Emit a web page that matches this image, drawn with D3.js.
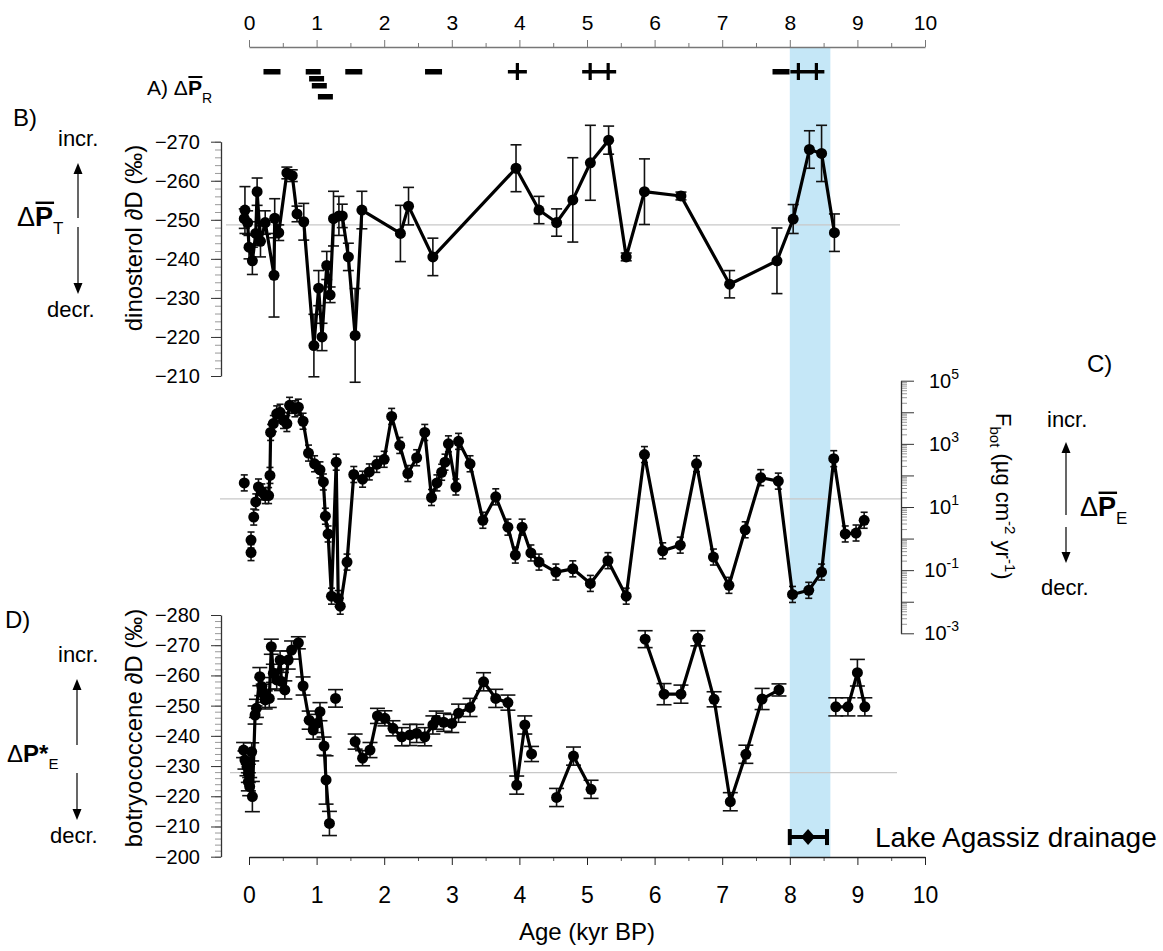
<!DOCTYPE html>
<html><head><meta charset="utf-8">
<script src="https://cdn.jsdelivr.net/npm/d3@7"></script>
<style>
body{margin:0;background:#fff}
svg{display:block;font-family:"Liberation Sans",Arial,sans-serif}
</style></head><body>
<svg id="chart" width="1163" height="951"></svg>
<script>
// ---------------- DATA ----------------
const ageTicks = [0,1,2,3,4,5,6,7,8,9,10];
const ageMinor = [0.5,1.5,2.5,3.5,4.5,5.5,6.5,7.5,8.5,9.5];
const drainageBand = [8.0, 8.6];

// A) sign symbols (age, kind, stacked row)
const signAges  = [0.34, 0.95, 1.0, 1.04, 1.13, 1.55, 2.73, 3.97, 5.18, 7.87, 8.26];
const signKinds = ['-','-','-','-','-','-','-','+','++','-','++'];
const signRows  = [0, 0, 1, 2, 3, 0, 0, 0, 0, 0, 0];

// B) dinosterol dD (permil)
const dinoTicks = [-270,-260,-250,-240,-230,-220,-210];
const dinoAge = [-0.07,-0.06,-0.02,0.0,0.05,0.10,0.12,0.17,0.24,0.37,0.38,0.44,0.56,0.64,0.71,0.81,0.96,1.03,1.08,1.15,1.20,1.25,1.33,1.38,1.47,1.57,1.67,2.24,2.36,2.72,3.95,4.29,4.55,4.79,5.05,5.32,5.58,5.85,6.39,7.11,7.81,8.05,8.29,8.47,8.66];
const dinoVal = [-250.3,-252.5,-249.3,-243,-239.5,-246.5,-257.2,-244.5,-249.3,-235.8,-250.4,-246.7,-262,-261.3,-251.5,-249.5,-217.8,-232.5,-220,-238.3,-230.8,-250.3,-251,-251,-240.5,-220.4,-252.5,-246.5,-253.5,-240.5,-263.2,-252.5,-249.3,-255.1,-264.6,-270.4,-240.5,-257.2,-256.1,-233.5,-239.5,-250.2,-268,-267,-246.7];
const dinoErr = [2.5,6,3,3,3.5,3,3.5,4,3,10.7,5,2,1.5,1.5,2,4.7,8,4.5,3.5,3.6,2,7,5,3,3.5,12,4.8,7.2,4.8,4.8,6,3.5,3.5,10.8,9.6,3.6,1,8.4,1,3.5,8.4,3.7,4.8,7.2,4.8];
const dinoRef = -248.7;

// C) F_bot (ug cm-2 yr-1), log scale
const fbotTicks = [1e5,1e3,1e1,1e-1,1e-3];
const fbotTickExp = ['5','3','1','-1','-3'];
const fbotIsoAge = [-0.07, 0.03, 0.03, 0.07];
const fbotIsoVal = [58, 0.9, 0.36, 4.8];
const fbotAge = [0.10,0.14,0.19,0.24,0.29,0.31,0.32,0.36,0.41,0.46,0.51,0.56,0.60,0.68,0.73,0.80,0.88,0.97,1.05,1.10,1.13,1.17,1.22,1.29,1.32,1.35,1.45,1.55,1.68,1.78,1.89,2.00,2.11,2.23,2.35,2.48,2.60,2.70,2.78,2.85,2.90,2.95,3.06,3.10,3.27,3.46,3.65,3.83,3.94,4.04,4.17,4.29,4.54,4.79,5.05,5.31,5.58,5.85,6.12,6.38,6.62,6.87,7.10,7.34,7.57,7.83,8.04,8.28,8.47,8.65,8.82,8.98,9.10];
const fbotVal = [14.5,43,30,23,23,100,2300,4400,8900,10000,5500,4400,16600,12900,14500,5200,510,234,150,62,5.1,1.4,0.015,263,0.0126,0.0072,0.18,107,76,129,224,324,7400,890,115,363,2300,20,58,126,263,1000,43,1200,234,3.8,21,2.3,0.3,2.3,0.35,0.18,0.087,0.11,0.038,0.2,0.015,457,0.41,0.62,234,0.26,0.033,1.9,85,66,0.017,0.023,0.087,339,1.4,1.5,3.8];
const fbotRef = 18;

// D) botryococcene dD (permil)
const botTicks = [-280,-270,-260,-250,-240,-230,-220,-210,-200];
const botAge = [-0.08,-0.06,-0.03,-0.01,-0.01,0.01,0.04,0.05,0.09,0.11,0.16,0.19,0.21,0.24,0.30,0.33,0.36,0.41,0.46,0.48,0.53,0.58,0.63,0.73,0.80,0.89,0.95,1.00,1.05,1.11,1.14,1.19,
  1.28,
  1.57,1.68,1.79,1.90,2.01,2.13,2.26,2.38,2.48,2.60,2.72,2.77,2.88,3.00,3.10,3.27,3.47,3.65,3.83,3.96,4.08,4.18,
  4.55,4.80,5.06,
  5.86,6.14,6.39,6.64,6.88,7.12,7.35,7.59,7.84,
  8.68,8.86,9.00,9.11];
const botVal = [-235.3,-232,-229.8,-227.6,-224.8,-223.2,-234.7,-219.9,-246.9,-249.1,-259.6,-256.3,-254.1,-251.9,-252.4,-269.5,-260.7,-258.5,-265.1,-258,-255.2,-265.1,-268.4,-270.8,-256.5,-245.2,-241.9,-244.1,-248,-236.6,-225.4,-211,
  -252.4,
  -238.1,-232.6,-235.3,-246.6,-245.8,-242.5,-239.7,-240.3,-240.8,-239.7,-243.6,-245.2,-244.5,-244.1,-247.5,-249.4,-257.9,-252.4,-251,-223.7,-243.6,-234,
  -219.6,-233.3,-222.3,
  -272,-253.8,-253.8,-272.3,-252.1,-218.2,-233.9,-252.2,-255.2,
  -249.6,-249.6,-260.9,-249.6];
const botErr = [2.5,3,3,3,3,3,3,5,3,3,3,3,3,3,3,2.5,3,3,3,3,3,3,3,2,3,3,3,3,3,3,8,4,
  2.9,
  2.5,2.5,2.5,2.5,2.5,2.5,3,3.5,3,3,3,3,3,3,3,3,3,3,2.5,3,3,2.5,
  3,3,3,
  2.8,3.5,3,2.5,2.5,3,3,3.5,2,
  3,3,4.4,3];
const botSeg = [1,1,1,1,1,1,1,1,1,1,1,1,1,1,1,1,1,1,1,1,1,1,1,1,1,1,1,1,1,1,1,1,
  2,
  3,3,3,3,3,3,3,3,3,3,3,3,3,3,3,3,3,3,3,3,3,3,
  4,4,4,
  5,5,5,5,5,5,5,5,5,
  6,6,6,6];
const botRef = -227.8;

// Lake Agassiz drainage marker
const agassizAge = 8.27;
const agassizRange = [8.0, 8.55];
const agassizLevel = -206.5;

// ---------------- CHART ----------------
const svg = d3.select('#chart');
const x  = d3.scaleLinear().domain([0,10]).range([249,925]);
const yB = d3.scaleLinear().domain([-270,-210]).range([141.7,376]);
const yC = d3.scaleLog().domain([1e5,1e-3]).range([380.7,633.3]);
const yD = d3.scaleLinear().domain([-280,-200]).range([615,856.7]);

// blue band
svg.append('rect')
  .attr('x', x(drainageBand[0])).attr('width', x(drainageBand[1]) - x(drainageBand[0]))
  .attr('y', 47).attr('height', 857 - 47)
  .attr('fill', '#c5e7f7');

// reference lines
const refs = svg.append('g').attr('stroke','#c8c8c8').attr('stroke-width',1.2);
refs.append('line').attr('x1',226).attr('x2',900).attr('y1',yB(dinoRef)).attr('y2',yB(dinoRef));
refs.append('line').attr('x1',220).attr('x2',901).attr('y1',yC(fbotRef)).attr('y2',yC(fbotRef));
refs.append('line').attr('x1',230).attr('x2',897).attr('y1',yD(botRef)).attr('y2',yD(botRef));

function styleAxis(g, color, fs){
  g.selectAll('path.domain').attr('stroke', color).attr('stroke-width', 1.3);
  g.selectAll('.tick line').attr('stroke', color);
  g.selectAll('text').attr('fill','#000').attr('font-size', fs).attr('font-family','"Liberation Sans",Arial,sans-serif');
}

// top axis
const gTopMinor = svg.append('g').attr('transform','translate(0,47)')
  .call(d3.axisTop(x).tickValues(ageMinor).tickSize(4).tickSizeOuter(0).tickFormat(''));
gTopMinor.select('path.domain').remove();
gTopMinor.selectAll('line').attr('stroke','#777');
const gTop = svg.append('g').attr('transform','translate(0,47)')
  .call(d3.axisTop(x).tickValues(ageTicks).tickSize(7).tickSizeOuter(0).tickFormat(d3.format('d')));
styleAxis(gTop, '#777', 21);
gTop.selectAll('text').attr('y', -17).attr('dy', 0);

// bottom axis
const gBotMinor = svg.append('g').attr('transform','translate(0,857)')
  .call(d3.axisBottom(x).tickValues(ageMinor).tickSize(4).tickSizeOuter(0).tickFormat(''));
gBotMinor.select('path.domain').remove();
gBotMinor.selectAll('line').attr('stroke','#555');
const gBot = svg.append('g').attr('transform','translate(0,857)')
  .call(d3.axisBottom(x).tickValues(ageTicks).tickSize(8).tickSizeOuter(0).tickFormat(d3.format('d')));
styleAxis(gBot, '#222', 23);
gBot.selectAll('text').attr('y', 46).attr('dy', 0);
svg.append('text').attr('x', x(5)).attr('y', 940).attr('text-anchor','middle')
  .attr('font-size', 24).text('Age (kyr BP)');

// left axes B and D
function leftAxis(scale, ticks, minorStep){
  const dom = scale.domain();
  const minor = d3.range(Math.min(...dom), Math.max(...dom) + 0.001, minorStep);
  const gm = svg.append('g').attr('transform','translate(221,0)')
    .call(d3.axisLeft(scale).tickValues(minor).tickSize(6).tickSizeOuter(0).tickFormat(''));
  gm.select('path.domain').remove();
  gm.selectAll('line').attr('stroke','#999');
  const g = svg.append('g').attr('transform','translate(221,0)')
    .call(d3.axisLeft(scale).tickValues(ticks).tickSize(10).tickSizeOuter(0).tickFormat(d3.format('d')));
  styleAxis(g, '#333', 20);
  g.selectAll('text').attr('x', -21);
}
leftAxis(yB, dinoTicks, 2);
leftAxis(yD, botTicks, 2);

// right axis C (log)
(function(){
  const minor = [];
  for (let e = -3; e < 5; e++) for (let m = 2; m <= 9; m++) minor.push(m * Math.pow(10, e));
  const gm = svg.append('g').attr('transform','translate(901,0)')
    .call(d3.axisRight(yC).tickValues(minor).tickSize(6).tickSizeOuter(0).tickFormat(''));
  gm.select('path.domain').remove();
  gm.selectAll('line').attr('stroke','#999');
  const decades = d3.range(-3, 6).map(e => Math.pow(10, e));
  const gd = svg.append('g').attr('transform','translate(901,0)')
    .call(d3.axisRight(yC).tickValues(decades).tickSize(13).tickSizeOuter(0).tickFormat(''));
  styleAxis(gd, '#333', 20);
  const lab = svg.append('g').attr('transform','translate(901,0)');
  fbotTicks.forEach((v, i) => {
    const t = lab.append('text').attr('x', 58).attr('y', yC(v) + 7)
      .attr('text-anchor','end').attr('font-size', 20);
    t.append('tspan').text('10');
    t.append('tspan').attr('font-size', 14).attr('dy', -9).text(fbotTickExp[i]);
  });
})();

// error bars + lines + markers
function drawSeries(data, ys, capW, lineSegments){
  const g = svg.append('g');
  g.selectAll('line.err').data(data).join('line')
    .attr('x1', d => x(d.a)).attr('x2', d => x(d.a))
    .attr('y1', d => d.lo).attr('y2', d => d.hi)
    .attr('stroke','#111').attr('stroke-width',1.6);
  ['lo','hi'].forEach(k => {
    g.selectAll('line.cap' + k).data(data).join('line')
      .attr('x1', d => x(d.a) - capW/2).attr('x2', d => x(d.a) + capW/2)
      .attr('y1', d => d[k]).attr('y2', d => d[k])
      .attr('stroke','#111').attr('stroke-width',1.6);
  });
  const line = d3.line().x(d => x(d.a)).y(d => ys(d.v));
  lineSegments.forEach(seg => {
    if (seg.length > 1)
      g.append('path').attr('d', line(seg)).attr('fill','none')
        .attr('stroke','#000').attr('stroke-width',3.2).attr('stroke-linejoin','round');
  });
  g.selectAll('circle').data(data).join('circle')
    .attr('cx', d => x(d.a)).attr('cy', d => ys(d.v)).attr('r', 5.5).attr('fill','#000');
}

// B
const dino = dinoAge.map((a, i) => ({a, v: dinoVal[i], lo: yB(dinoVal[i] - dinoErr[i]), hi: yB(dinoVal[i] + dinoErr[i])}));
drawSeries(dino, yB, 11, [dino]);

// C
const fbotConn = fbotAge.map((a, i) => ({a, v: fbotVal[i]}));
const fbotIso = fbotIsoAge.map((a, i) => ({a, v: fbotIsoVal[i]}));
const fbotAll = fbotIso.concat(fbotConn).map(d => ({...d, lo: yC(d.v) + 8, hi: yC(d.v) - 8}));
drawSeries(fbotAll, yC, 7, [fbotConn]);

// D
const bot = botAge.map((a, i) => ({a, v: botVal[i], s: botSeg[i], lo: yD(botVal[i] - botErr[i]), hi: yD(botVal[i] + botErr[i])}));
const botSegs = Array.from(d3.group(bot, d => d.s).values());
drawSeries(bot, yD, 15, botSegs);

// Lake Agassiz drainage marker
(function(){
  const yy = yD(agassizLevel);
  const g = svg.append('g');
  g.append('line').attr('x1', x(agassizRange[0])).attr('x2', x(agassizRange[1]))
    .attr('y1', yy).attr('y2', yy).attr('stroke','#000').attr('stroke-width',4);
  agassizRange.forEach(a => g.append('line').attr('x1', x(a)).attr('x2', x(a))
    .attr('y1', yy - 8).attr('y2', yy + 8).attr('stroke','#000').attr('stroke-width',4));
  const cx = x(agassizAge);
  g.append('path').attr('d', `M${cx},${yy-8}L${cx+7},${yy}L${cx},${yy+8}L${cx-7},${yy}Z`).attr('fill','#000');
  svg.append('text').attr('x', 875).attr('y', 847).attr('font-size', 28).text('Lake Agassiz drainage');
})();

// A) signs
(function(){
  const rowY = [72, 79, 86, 97];
  const g = svg.append('g').attr('fill','#000');
  signAges.forEach((a, i) => {
    const cx = x(a), cy = rowY[signRows[i]], k = signKinds[i];
    if (k === '-') {
      const w = signRows[i] === 0 && i !== 1 ? 17 : 15;
      g.append('rect').attr('x', cx - w/2).attr('y', cy - 3).attr('width', w).attr('height', 5.5);
    } else if (k === '+') {
      g.append('rect').attr('x', cx - 9.5).attr('y', cy - 2).attr('width', 19).attr('height', 3.5);
      g.append('rect').attr('x', cx - 1.6).attr('y', cy - 9).attr('width', 3.2).attr('height', 17);
    } else {
      g.append('rect').attr('x', cx - 17).attr('y', cy - 2).attr('width', 34).attr('height', 3.5);
      [-9, 9].forEach(o => g.append('rect').attr('x', cx + o - 1.6).attr('y', cy - 9).attr('width', 3.2).attr('height', 17));
    }
  });
})();

// labels with overlined P
function deltaLabel(xp, yp, fs, sub, overline, star){
  const t = svg.append('text').attr('x', xp).attr('y', yp).attr('font-size', fs);
  t.append('tspan').text('Δ');
  t.append('tspan').attr('font-weight','bold').text('P');
  if (star) t.append('tspan').attr('font-weight','bold').text('*');
  t.append('tspan').attr('font-size', Math.round(fs*0.62)).attr('dy', fs*0.28).text(sub);
  if (overline) {
    const ext = t.node().getExtentOfChar(1);
    svg.append('line').attr('x1', ext.x + 0.5).attr('x2', ext.x + ext.width + 1)
      .attr('y1', yp - fs*0.86).attr('y2', yp - fs*0.86).attr('stroke','#000').attr('stroke-width', 2.4);
  }
  return t;
}
function arrow(xc, yTip, yEnd){
  const dir = yTip < yEnd ? 1 : -1;
  svg.append('line').attr('x1', xc).attr('x2', xc).attr('y1', yEnd).attr('y2', yTip + dir*6)
    .attr('stroke','#000').attr('stroke-width',1.2);
  svg.append('path').attr('d', `M${xc},${yTip}L${xc-4.5},${yTip + dir*11}L${xc+4.5},${yTip + dir*11}Z`).attr('fill','#000');
}

// A label
(function(){
  const t = svg.append('text').attr('x', 147).attr('y', 95).attr('font-size', 21);
  t.append('tspan').text('A) Δ');
  t.append('tspan').attr('font-weight','bold').text('P');
  t.append('tspan').attr('font-size', 14).attr('dy', 8).text('R');
  const ext = t.node().getExtentOfChar(4);
  svg.append('line').attr('x1', ext.x + 0.5).attr('x2', ext.x + ext.width + 0.5)
    .attr('y1', 77).attr('y2', 77).attr('stroke','#000').attr('stroke-width', 2);
})();

// B labels
svg.append('text').attr('x', 13).attr('y', 126).attr('font-size', 24).text('B)');
svg.append('text').attr('x', 58).attr('y', 146).attr('font-size', 22).text('incr.');
svg.append('text').attr('x', 47).attr('y', 317).attr('font-size', 22).text('decr.');
arrow(78, 163, 218);
arrow(78, 294, 227);
deltaLabel(17, 226, 27, 'T', true, false);
svg.append('text').attr('transform','translate(142,238) rotate(-90)').attr('text-anchor','middle')
  .attr('font-size', 24).text('dinosterol ∂D (‰)');

// C labels
svg.append('text').attr('x', 1087).attr('y', 372).attr('font-size', 24).text('C)');
svg.append('text').attr('x', 1047).attr('y', 427).attr('font-size', 22).text('incr.');
svg.append('text').attr('x', 1041).attr('y', 595).attr('font-size', 22).text('decr.');
arrow(1066, 442, 515);
arrow(1066, 563, 527);
deltaLabel(1080, 516, 27, 'E', true, false);
(function(){
  const t = svg.append('text').attr('transform','translate(996,413) rotate(90)').attr('font-size', 22);
  t.append('tspan').text('F');
  t.append('tspan').attr('font-size', 15).attr('dy', 6).text('bot');
  t.append('tspan').attr('dy', -6).text(' (µg cm');
  t.append('tspan').attr('font-size', 15).attr('dy', -9).text('-2');
  t.append('tspan').attr('dy', 9).text(' yr');
  t.append('tspan').attr('font-size', 15).attr('dy', -9).text('-1');
  t.append('tspan').attr('dy', 9).text(')');
})();

// D labels
svg.append('text').attr('x', 5).attr('y', 628).attr('font-size', 24).text('D)');
svg.append('text').attr('x', 58).attr('y', 662).attr('font-size', 22).text('incr.');
svg.append('text').attr('x', 50).attr('y', 843).attr('font-size', 22).text('decr.');
arrow(77, 679, 745);
arrow(77, 820, 773);
deltaLabel(7, 762, 24, 'E', false, true);
svg.append('text').attr('transform','translate(142,728) rotate(-90)').attr('text-anchor','middle')
  .attr('font-size', 24).text('botryococcene ∂D (‰)');
</script>
</body></html>
